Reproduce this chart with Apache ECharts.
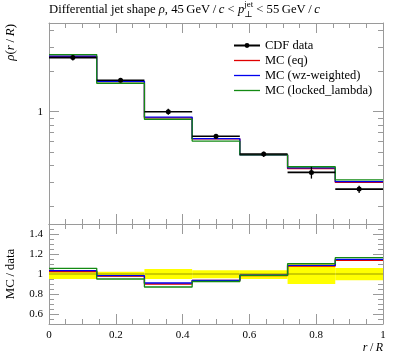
<!DOCTYPE html>
<html><head><meta charset="utf-8">
<script src="https://cdn.jsdelivr.net/npm/echarts@6/dist/echarts.min.js"></script>
<style>html,body{margin:0;padding:0;background:#fff}#c{width:397px;height:358px}</style>
</head><body><div id="c"></div>
<script>
// ---- data ----
const binEdges = [0, 0.1429, 0.2857, 0.4286, 0.5714, 0.7143, 0.8571, 1];
const cdfData = [2.51, 1.706, 1.0, 0.658, 0.487, 0.356, 0.268];
const cdfErrUp = [0.04, 0.023, 0.05, 0.037, 0.037, 0.10, 0.06];    // relative
const cdfErrDown = [0.05, 0.03, 0.05, 0.043, 0.05, 0.10, 0.063];  // relative
const mcEq = [2.56, 1.67, 0.90, 0.63, 0.48, 0.379, 0.300];
const mcWz = [2.57, 1.675, 0.912, 0.632, 0.479, 0.384, 0.304];
const mcLocked = [2.64, 1.622, 0.879, 0.607, 0.48, 0.392, 0.313];
const ratioEq = [1.025, 0.978, 0.90, 0.935, 0.985, 1.08, 1.137];
const ratioWz = [1.033, 0.983, 0.91, 0.937, 0.988, 1.087, 1.147];
const ratioLocked = [1.057, 0.95, 0.87, 0.925, 0.987, 1.103, 1.163];
const rhoRange = [0.148, 4.52];
const rhoMajorTicks = [1];
const rhoMinorTicks = [0.2, 0.3, 0.4, 0.5, 0.6, 0.7, 0.8, 0.9, 2, 3, 4];
const ratioRange = [0.5, 1.5];
const ratioMajorTicks = [0.6, 0.8, 1, 1.2, 1.4];
const ratioMinorTicks = [0.55, 0.65, 0.7, 0.75, 0.85, 0.9, 0.95, 1.05, 1.1, 1.15, 1.25, 1.3, 1.35, 1.45];
const names = ['CDF data', 'MC (eq)', 'MC (wz-weighted)', 'MC (locked_lambda)'];
const colors = ['#000000', '#e00000', '#0000ee', '#138a13'];

// ---- helpers ----
const L = v => Math.log10(v);
const FONT = '"Liberation Serif", "DejaVu Serif", serif';
const AX = '#9a9a9a';
const TS = '\u2009';

function xAxis(gridIndex, position, showLabel) {
  return {
    type: 'value', gridIndex, position, min: 0, max: 1, interval: 0.2,
    axisLine: {show: true, onZero: false, lineStyle: {color: AX, width: 1}},
    axisTick: {show: true, inside: true, length: 10, lineStyle: {color: AX}},
    minorTick: {show: true, splitNumber: 4, length: 5, lineStyle: {color: AX}},
    axisLabel: {show: showLabel, fontFamily: FONT, fontSize: 11, color: '#000', margin: 6},
    splitLine: {show: false}, minorSplitLine: {show: false}
  };
}
function yAxis(gridIndex, position, range, ticks, len, showLine, showLabel, fmt) {
  return {
    type: 'value', gridIndex, position, min: range[0], max: range[1],
    axisLine: {show: showLine, onZero: false, lineStyle: {color: AX, width: 1}},
    axisTick: {show: true, inside: true, length: len, lineStyle: {color: AX}, customValues: ticks},
    axisLabel: {show: showLabel, customValues: ticks, fontFamily: FONT, fontSize: 11, color: '#000', margin: 6, formatter: fmt},
    splitLine: {show: false}
  };
}
const rhoFmt = v => String(Math.round(Math.pow(10, v) * 100) / 100);
const ratioFmt = v => String(Math.round(v * 100) / 100);

function stepData(vals, tf) {
  const d = vals.map((v, i) => [binEdges[i], tf(v)]);
  d.push([binEdges[binEdges.length - 1], tf(vals[vals.length - 1])]);
  return d;
}

const rhoR = [L(rhoRange[0]), L(rhoRange[1])];
const yAxes = [
  yAxis(0, 'left', rhoR, rhoMajorTicks.map(L), 10, true, true, rhoFmt),
  yAxis(0, 'left', rhoR, rhoMinorTicks.map(L), 5, false, false),
  yAxis(0, 'right', rhoR, rhoMajorTicks.map(L), 10, true, false),
  yAxis(0, 'right', rhoR, rhoMinorTicks.map(L), 5, false, false),
  yAxis(1, 'left', ratioRange, ratioMajorTicks, 10, true, true, ratioFmt),
  yAxis(1, 'left', ratioRange, ratioMinorTicks, 5, false, false),
  yAxis(1, 'right', ratioRange, ratioMajorTicks, 10, true, false),
  yAxis(1, 'right', ratioRange, ratioMinorTicks, 5, false, false)
];

// data line with gaps (horizontal x-error bars + points)
const dataLine = [];
cdfData.forEach((v, i) => {
  const c = (binEdges[i] + binEdges[i + 1]) / 2;
  dataLine.push({value: [binEdges[i], L(v)], symbol: 'none'});
  dataLine.push({value: [c, L(v)], symbol: 'circle'});
  dataLine.push({value: [binEdges[i + 1], L(v)], symbol: 'none'});
  dataLine.push('-');
});
const errData = cdfData.map((v, i) => [(binEdges[i] + binEdges[i + 1]) / 2, L(v * (1 - cdfErrDown[i])), L(v * (1 + cdfErrUp[i]))]);
const bandData = cdfData.map((v, i) => [binEdges[i], binEdges[i + 1], 1 - cdfErrDown[i], 1 + cdfErrUp[i]]);

const mcTop = [mcEq, mcWz, mcLocked];
const mcRatio = [ratioEq, ratioWz, ratioLocked];
const series = [];
series.push({
  type: 'custom', xAxisIndex: 2, yAxisIndex: 4, z: 1, silent: true,
  encode: {x: [0, 1], y: [2, 3]}, data: bandData,
  renderItem: (p, api) => {
    const a = api.coord([api.value(0), api.value(3)]);
    const b = api.coord([api.value(1), api.value(2)]);
    const c = api.coord([api.value(0), 1]);
    const d = api.coord([api.value(1), 1]);
    return {type: 'group', children: [
      {type: 'rect', shape: {x: a[0], y: a[1], width: b[0] - a[0], height: b[1] - a[1]}, style: {fill: '#ffff00'}},
      {type: 'line', shape: {x1: c[0], y1: c[1], x2: d[0], y2: d[1]}, style: {stroke: 'rgba(0,0,0,0.4)', lineWidth: 1}}
    ]};
  }
});
for (let k = 0; k < 3; k++) {
  series.push({
    name: names[k + 1], type: 'line', step: 'end', xAxisIndex: 0, yAxisIndex: 0, z: 2 + k * 0.1,
    symbol: 'none', silent: true, data: stepData(mcTop[k], L),
    lineStyle: {color: colors[k + 1], width: 1.3}, itemStyle: {color: colors[k + 1]}
  });
  series.push({
    name: names[k + 1], type: 'line', step: 'end', xAxisIndex: 2, yAxisIndex: 4, z: 2 + k * 0.1,
    symbol: 'none', silent: true, data: stepData(mcRatio[k], v => v),
    lineStyle: {color: colors[k + 1], width: 1.3}, itemStyle: {color: colors[k + 1]}
  });
}
series.push({
  name: names[0], type: 'line', xAxisIndex: 0, yAxisIndex: 0, z: 4, silent: true,
  symbol: 'circle', symbolSize: 5, showAllSymbol: true, connectNulls: false, data: dataLine,
  lineStyle: {color: '#000', width: 1.6}, itemStyle: {color: '#000'}
});
series.push({
  type: 'custom', xAxisIndex: 0, yAxisIndex: 0, z: 4, silent: true,
  encode: {x: 0, y: [1, 2]}, data: errData,
  renderItem: (p, api) => {
    const a = api.coord([api.value(0), api.value(1)]);
    const b = api.coord([api.value(0), api.value(2)]);
    return {type: 'line', shape: {x1: a[0], y1: a[1], x2: b[0], y2: b[1]}, style: {stroke: '#000', lineWidth: 1.3}};
  }
});

// ---- title layout (measured) ----
const ctx = document.createElement('canvas').getContext('2d');
function tw(t, size, it) { ctx.font = (it ? 'italic ' : '') + size + 'px "Liberation Serif"'; return ctx.measureText(t).width; }
const seg1 = [['Differential jet shape ', 0], ['\u03c1', 1], [', 45' + TS + 'GeV' + TS + '/' + TS, 0], ['c', 1], [' < ', 0], ['p', 1]];
const seg2 = [[' < 55' + TS + 'GeV' + TS + '/' + TS, 0], ['c', 1]];
function totalW(s) {
  let w = 0; seg1.forEach(g => w += tw(g[0], s, g[1]));
  w += Math.max(tw('jet', s * 0.7, 0), tw('\u22a5', s * 0.7, 0));
  seg2.forEach(g => w += tw(g[0], s, g[1]));
  return w;
}
const titleSize = 12 * 271 / totalW(12);
const graphics = [];
let gx = 49;
const ty = 10;
function addSeg(g, s, y) {
  graphics.push({type: 'text', x: gx, y: y, silent: true, style: {text: g[0], font: (g[1] ? 'italic ' : '') + s + 'px ' + FONT, fill: '#000', textAlign: 'left', textVerticalAlign: 'middle'}});
  gx += tw(g[0], s, g[1]);
}
seg1.forEach(g => addSeg(g, titleSize, ty));
const sx = gx;
graphics.push({type: 'text', x: sx, y: ty - 5, silent: true, style: {text: 'jet', font: (titleSize * 0.7) + 'px ' + FONT, fill: '#000', textVerticalAlign: 'middle'}});
graphics.push({type: 'text', x: sx, y: ty + 5, silent: true, style: {text: '\u22a5', font: (titleSize * 0.7) + 'px ' + FONT, fill: '#000', textVerticalAlign: 'middle'}});
gx = sx + Math.max(tw('jet', titleSize * 0.7, 0), tw('\u22a5', titleSize * 0.7, 0));
seg2.forEach(g => addSeg(g, titleSize, ty));

// axis titles
graphics.push({type: 'text', x: 11, y: 24, rotation: Math.PI / 2, silent: true,
  style: {text: '{i|\u03c1}(' + '{i|r}' + TS + '/' + TS + '{i|R})', font: '13px ' + FONT, fill: '#000', textAlign: 'right', textVerticalAlign: 'middle',
    rich: {i: {fontStyle: 'italic', fontFamily: FONT, fontSize: 13}}}});
graphics.push({type: 'text', x: 11, y: 274, rotation: Math.PI / 2, silent: true,
  style: {text: 'MC' + TS + '/' + TS + 'data', font: '13px ' + FONT, fill: '#000', textAlign: 'center', textVerticalAlign: 'middle'}});
graphics.push({type: 'text', x: 383, y: 348, silent: true,
  style: {text: '{i|r}' + TS + '/' + TS + '{i|R}', font: '12px ' + FONT, fill: '#000', textAlign: 'right', textVerticalAlign: 'middle',
    rich: {i: {fontStyle: 'italic', fontFamily: FONT, fontSize: 12}}}});

const lineIcon = 'path://M0,0h26v1.3h-26z';
const chart = echarts.init(document.getElementById('c'), null, {renderer: 'canvas'});
chart.setOption({
  animation: false,
  backgroundColor: '#fff',
  grid: [
    {left: 49, top: 23, width: 334, height: 201},
    {left: 49, top: 224, width: 334, height: 100}
  ],
  xAxis: [xAxis(0, 'bottom', false), xAxis(0, 'top', false), xAxis(1, 'bottom', true), xAxis(1, 'top', false)],
  yAxis: yAxes,
  legend: {
    orient: 'vertical', left: 228, top: 34, itemWidth: 26, itemHeight: 6, itemGap: 2,
    selectedMode: false,
    data: [{name: names[0]}].concat(names.slice(1).map(n => ({name: n, icon: lineIcon}))),
    textStyle: {fontFamily: FONT, fontSize: 12.5, color: '#000'}
  },
  graphic: graphics,
  series: series
});
</script></body></html>
